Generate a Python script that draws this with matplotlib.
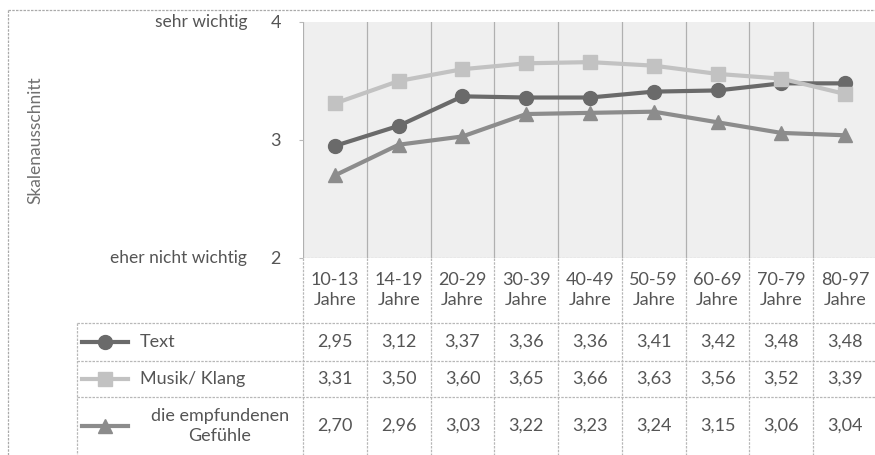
import matplotlib
matplotlib.use("Agg")
import matplotlib.pyplot as plt
from matplotlib.lines import Line2D
from matplotlib.transforms import blended_transform_factory

plt.rcParams['font.family'] = ['Lato', 'DejaVu Sans']

categories = ["10-13\nJahre", "14-19\nJahre", "20-29\nJahre", "30-39\nJahre", "40-49\nJahre",
              "50-59\nJahre", "60-69\nJahre", "70-79\nJahre", "80-97\nJahre"]
text_vals = [2.95, 3.12, 3.37, 3.36, 3.36, 3.41, 3.42, 3.48, 3.48]
musik_vals = [3.31, 3.50, 3.60, 3.65, 3.66, 3.63, 3.56, 3.52, 3.39]
gefuehl_vals = [2.70, 2.96, 3.03, 3.22, 3.23, 3.24, 3.15, 3.06, 3.04]
series_names = ["Text", "Musik/ Klang", "die empfundenen\nGefühle"]
y_ticks = [2, 3, 4]
y_ticklabels = ["2", "3", "4"]
y_side_labels = {4: "sehr wichtig", 2: "eher nicht wichtig"}

W, H = 875, 455
fig = plt.figure(figsize=(W / 100, H / 100), dpi=100)

def fx(px):
    return px / W

def fy(py):
    return 1 - py / H

left, right, top, bottom = 303, 877, 22, 258
ax = fig.add_axes([fx(left), fy(bottom), fx(right - left), fy(top) - fy(bottom)])
ax.set_facecolor("#efefef")
n = len(categories)
ax.set_xlim(-0.5, n - 0.5)
ax.set_ylim(2, 4)
ax.set_yticks(y_ticks)
ax.set_yticklabels(y_ticklabels, fontsize=13, color="#555555")
ax.tick_params(axis='y', length=3, color="#bbbbbb", pad=13)
ax.set_xticks([])
for s in ax.spines.values():
    s.set_visible(False)
for i in range(n + 1):
    ax.axvline(i - 0.5, color="#b0b0b0", lw=0.9, zorder=1)
ax.axhline(2, color="#b8b8b8", lw=0.9, ls=(0, (2, 1)), zorder=1)

xs = list(range(n))
styles = [
    dict(color="#6a6a6a", marker="o", markersize=10),
    dict(color="#c2c2c2", marker="s", markersize=9.5),
    dict(color="#8c8c8c", marker="^", markersize=10),
]
data = [text_vals, musik_vals, gefuehl_vals]
for vals, st in zip(data, styles):
    ax.plot(xs, vals, lw=3, zorder=3, **st)

tr_side = blended_transform_factory(fig.transFigure, ax.transData)
for yv, lab in y_side_labels.items():
    ax.text(fx(247), yv, lab, transform=tr_side, ha="right", va="center",
            fontsize=12.5, color="#555555")

fig.text(fx(35), fy(140), "Skalenausschnitt", rotation=90, ha="center", va="center",
         fontsize=12.5, color="#707070")

# table
tr = blended_transform_factory(ax.transData, fig.transFigure)
grid_col = "#b8b8b8"
row_edges = [258, 323, 361, 397, 460]
for i in range(n + 1):
    fig.add_artist(Line2D([i - 0.5, i - 0.5], [fy(258), fy(460)], transform=tr,
                          color=grid_col, lw=0.9, ls=(0, (2, 1))))
for py in row_edges[1:4]:
    fig.add_artist(Line2D([fx(77), fx(880)], [fy(py), fy(py)], transform=fig.transFigure,
                          color=grid_col, lw=0.9, ls=(0, (2, 1))))
fig.add_artist(Line2D([fx(77), fx(77)], [fy(323), fy(460)], transform=fig.transFigure,
                      color=grid_col, lw=0.9, ls=(0, (2, 1))))

txt_col = "#555555"
for i, c in enumerate(categories):
    fig.text(i, fy(290), c, transform=tr, ha="center", va="center", fontsize=13,
             color=txt_col, linespacing=1.35)
row_centers = [342, 379, 426]
for vals, yc in zip(data, row_centers):
    for i, v in enumerate(vals):
        fig.text(i, fy(yc), f"{v:.2f}".replace(".", ","), transform=tr, ha="center",
                 va="center", fontsize=13, color=txt_col)

# legend keys
for st, yc in zip(styles, row_centers):
    fig.add_artist(Line2D([fx(82), fx(128)], [fy(yc), fy(yc)], transform=fig.transFigure,
                          lw=3, color=st["color"]))
    fig.add_artist(Line2D([fx(105)], [fy(yc)], transform=fig.transFigure, lw=0,
                          color=st["color"], marker=st["marker"], markersize=st["markersize"]))
fig.text(fx(140), fy(342), series_names[0], ha="left", va="center", fontsize=13, color=txt_col)
fig.text(fx(140), fy(379), series_names[1], ha="left", va="center", fontsize=13, color=txt_col)
fig.text(fx(220), fy(426), series_names[2], ha="center", va="center", fontsize=13,
         color=txt_col, linespacing=1.3)

# outer frame
fig.add_artist(Line2D([fx(8), fx(875)], [fy(10), fy(10)], transform=fig.transFigure,
                      color="#aaaaaa", lw=0.9, ls=(0, (2, 1))))
fig.add_artist(Line2D([fx(8), fx(8)], [fy(10), fy(455)], transform=fig.transFigure,
                      color="#aaaaaa", lw=0.9, ls=(0, (2, 1))))

fig.savefig("out.png", dpi=100)
